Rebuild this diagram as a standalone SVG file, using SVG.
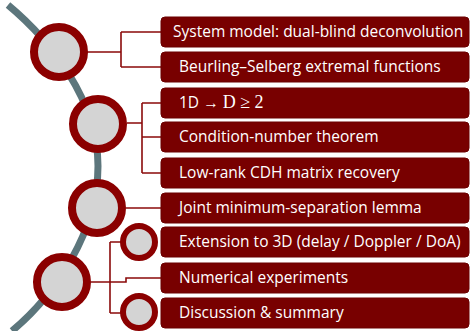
<svg xmlns="http://www.w3.org/2000/svg" width="470" height="331" viewBox="0 0 470 331">
<style>
.box{fill:#780000;stroke:#6a0000;stroke-width:1}
.lbl{fill:#ffffff;font-family:"Open Sans","Liberation Sans",Arial,sans-serif;font-size:15.5px}
.math{font-family:"Liberation Serif","Times New Roman",serif;font-size:18px}
.conn{fill:none;stroke:#8b0a0a;stroke-width:1.6}
.big{fill:#d4d4d4;stroke:#8b0000;stroke-width:8}
.small{fill:#d4d4d4;stroke:#8b0000;stroke-width:6}
.spine{fill:none;stroke:#5c767c;stroke-width:7;stroke-linecap:butt}
</style>
<rect width="470" height="331" fill="#ffffff"/>
<path class="spine" d="M8,5 C50,40 98,100 98,166 C98,232 55,295 12,331"/>
<g id="connectors">
<path class="conn" d="M84,52 H121 M121,32 V67 M121,32 H161 M121,67 H161"/>
<path class="conn" d="M127,123 H142 M142,103 V173 M142,103 H161 M142,137 H161 M142,173 H161"/>
<path class="conn" d="M126,208 H161"/>
<path class="conn" d="M91,282 H126 V278 H161 M110,242 V313 M110,242 H125 M110,313 H125"/>
</g>
<g id="n1"><rect class="box" x="161" y="17" width="308" height="30" rx="4"/><text class="lbl" x="173" y="37">System model: dual-blind deconvolution</text></g>
<g id="n2"><rect class="box" x="161" y="52" width="308" height="30" rx="4"/><text class="lbl" x="179" y="72">Beurling–Selberg extremal functions</text></g>
<g id="n3"><rect class="box" x="161" y="88" width="308" height="30" rx="4"/><text class="lbl" x="179" y="108">1D → <tspan class="math">D ≥ 2</tspan></text></g>
<g id="n4"><rect class="box" x="161" y="122" width="308" height="30" rx="4"/><text class="lbl" x="179" y="142">Condition-number theorem</text></g>
<g id="n5"><rect class="box" x="161" y="158" width="308" height="30" rx="4"/><text class="lbl" x="179" y="178">Low-rank CDH matrix recovery</text></g>
<g id="n6"><rect class="box" x="161" y="193" width="308" height="30" rx="4"/><text class="lbl" x="179" y="213">Joint minimum-separation lemma</text></g>
<g id="n7"><rect class="box" x="161" y="227" width="308" height="30" rx="4"/><text class="lbl" x="179" y="247">Extension to 3D (delay / Doppler / DoA)</text></g>
<g id="n8"><rect class="box" x="161" y="263" width="308" height="30" rx="4"/><text class="lbl" x="179" y="283">Numerical experiments</text></g>
<g id="n9"><rect class="box" x="161" y="298" width="308" height="30" rx="4"/><text class="lbl" x="179" y="318">Discussion &amp; summary</text></g>
<g id="c1"><circle class="big" cx="59" cy="52" r="25"/></g>
<g id="c2"><circle class="big" cx="98" cy="124" r="25"/></g>
<g id="c3"><circle class="big" cx="97" cy="208" r="25"/></g>
<g id="c4"><circle class="big" cx="62" cy="282" r="25"/></g>
<g id="c5"><circle class="small" cx="139" cy="242" r="16"/></g>
<g id="c6"><circle class="small" cx="139" cy="312" r="16"/></g>
</svg>
